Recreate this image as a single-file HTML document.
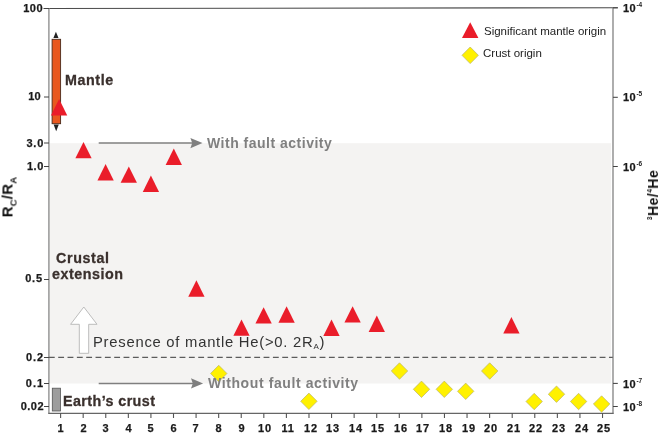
<!DOCTYPE html><html><head><meta charset="utf-8"><title>chart</title><style>
html,body{margin:0;padding:0;background:#fff;}
#c{position:relative;width:660px;height:434px;overflow:hidden;background:#fff;font-family:"Liberation Sans",sans-serif;color:#1a1a1a;}
.t{position:absolute;white-space:nowrap;line-height:1;will-change:transform;}
.yl{font-weight:bold;font-size:11px;text-align:right;width:40px;left:2.5px;letter-spacing:0.3px;-webkit-text-stroke:0.25px #1a1a1a}
.xl{font-weight:bold;font-size:11px;text-align:center;width:30px;top:422.7px;letter-spacing:0.8px;-webkit-text-stroke:0.25px #1a1a1a}
.rl{font-weight:bold;font-size:11px;left:622.6px;letter-spacing:0.5px;-webkit-text-stroke:0.25px #1a1a1a}
.rl sup{font-size:6.5px;position:relative;top:-0.7px;left:0.2px;vertical-align:top;letter-spacing:0;-webkit-text-stroke:0}
.big{font-weight:bold;font-size:14.3px;letter-spacing:0.9px;color:#3a302d;-webkit-text-stroke:0.3px #3a302d}
.gr{font-weight:bold;font-size:14px;letter-spacing:0.5px;color:#808080}
</style></head><body><div id="c">
<svg width="660" height="434" viewBox="0 0 660 434" style="position:absolute;left:0;top:0">
<rect x="49" y="143.2" width="562" height="240.3" fill="#f4f3f2"/>
<line x1="43.5" y1="8.45" x2="617.8" y2="7.75" stroke="#4a4a4a" stroke-width="1.05"/>
<line x1="48.9" y1="8" x2="48.9" y2="413.8" stroke="#888" stroke-width="1.3"/>
<line x1="613.0" y1="8" x2="613.0" y2="413.8" stroke="#777" stroke-width="1.2"/>
<line x1="48.3" y1="413.4" x2="613.6" y2="413.4" stroke="#666" stroke-width="1.2"/>
<line x1="44" y1="8.5" x2="49" y2="8.5" stroke="#444" stroke-width="1"/>
<line x1="44" y1="97" x2="49" y2="97" stroke="#444" stroke-width="1"/>
<line x1="44" y1="143" x2="49" y2="143" stroke="#444" stroke-width="1"/>
<line x1="44" y1="166.5" x2="49" y2="166.5" stroke="#444" stroke-width="1"/>
<line x1="44" y1="279.5" x2="49" y2="279.5" stroke="#444" stroke-width="1"/>
<line x1="44" y1="357.5" x2="49" y2="357.5" stroke="#444" stroke-width="1"/>
<line x1="44" y1="383.5" x2="49" y2="383.5" stroke="#444" stroke-width="1"/>
<line x1="44" y1="406.5" x2="49" y2="406.5" stroke="#444" stroke-width="1"/>
<line x1="613" y1="7.8" x2="617.8" y2="7.8" stroke="#444" stroke-width="1.05"/>
<line x1="613" y1="97.3" x2="617.8" y2="97.3" stroke="#444" stroke-width="1.05"/>
<line x1="613" y1="166.5" x2="617.8" y2="166.5" stroke="#444" stroke-width="1.05"/>
<line x1="613" y1="383.4" x2="617.8" y2="383.4" stroke="#444" stroke-width="1.05"/>
<line x1="613" y1="406.5" x2="617.8" y2="406.5" stroke="#444" stroke-width="1.05"/>
<line x1="60.60" y1="413" x2="60.60" y2="418" stroke="#555" stroke-width="1.1"/>
<line x1="83.18" y1="413" x2="83.18" y2="418" stroke="#555" stroke-width="1.1"/>
<line x1="105.76" y1="413" x2="105.76" y2="418" stroke="#555" stroke-width="1.1"/>
<line x1="128.34" y1="413" x2="128.34" y2="418" stroke="#555" stroke-width="1.1"/>
<line x1="150.92" y1="413" x2="150.92" y2="418" stroke="#555" stroke-width="1.1"/>
<line x1="173.50" y1="413" x2="173.50" y2="418" stroke="#555" stroke-width="1.1"/>
<line x1="196.08" y1="413" x2="196.08" y2="418" stroke="#555" stroke-width="1.1"/>
<line x1="218.66" y1="413" x2="218.66" y2="418" stroke="#555" stroke-width="1.1"/>
<line x1="241.24" y1="413" x2="241.24" y2="418" stroke="#555" stroke-width="1.1"/>
<line x1="263.82" y1="413" x2="263.82" y2="418" stroke="#555" stroke-width="1.1"/>
<line x1="286.40" y1="413" x2="286.40" y2="418" stroke="#555" stroke-width="1.1"/>
<line x1="308.98" y1="413" x2="308.98" y2="418" stroke="#555" stroke-width="1.1"/>
<line x1="331.56" y1="413" x2="331.56" y2="418" stroke="#555" stroke-width="1.1"/>
<line x1="354.14" y1="413" x2="354.14" y2="418" stroke="#555" stroke-width="1.1"/>
<line x1="376.72" y1="413" x2="376.72" y2="418" stroke="#555" stroke-width="1.1"/>
<line x1="399.30" y1="413" x2="399.30" y2="418" stroke="#555" stroke-width="1.1"/>
<line x1="421.88" y1="413" x2="421.88" y2="418" stroke="#555" stroke-width="1.1"/>
<line x1="444.46" y1="413" x2="444.46" y2="418" stroke="#555" stroke-width="1.1"/>
<line x1="467.04" y1="413" x2="467.04" y2="418" stroke="#555" stroke-width="1.1"/>
<line x1="489.62" y1="413" x2="489.62" y2="418" stroke="#555" stroke-width="1.1"/>
<line x1="512.20" y1="413" x2="512.20" y2="418" stroke="#555" stroke-width="1.1"/>
<line x1="534.78" y1="413" x2="534.78" y2="418" stroke="#555" stroke-width="1.1"/>
<line x1="557.36" y1="413" x2="557.36" y2="418" stroke="#555" stroke-width="1.1"/>
<line x1="579.94" y1="413" x2="579.94" y2="418" stroke="#555" stroke-width="1.1"/>
<line x1="602.52" y1="413" x2="602.52" y2="418" stroke="#555" stroke-width="1.1"/>
<line x1="48.87" y1="357.35" x2="612.8" y2="357.35" stroke="#5c5c5c" stroke-width="1.05" stroke-dasharray="5.85 3.485"/>
<rect x="52.1" y="39.3" width="8.5" height="84.4" fill="#e9581f" stroke="#4a2a1a" stroke-width="0.9"/>
<path d="M55.9 31.8 L58.5 37.9 L53.4 37.9 Z" fill="#222"/>
<path d="M56.2 131.2 L58.8 124.4 L53.6 124.4 Z" fill="#222"/>
<rect x="52.3" y="388.2" width="8.2" height="22.8" fill="#9d9d9d" stroke="#555" stroke-width="0.8"/>
<line x1="98.7" y1="143.1" x2="194.5" y2="143.1" stroke="#7f7f7f" stroke-width="1.5"/>
<path d="M202.5 143.1 L190.40 138.00 L192.20 143.1 L190.40 148.20 Z" fill="#7f7f7f"/>
<line x1="98.7" y1="383.4" x2="195.1" y2="383.4" stroke="#7f7f7f" stroke-width="1.5"/>
<path d="M203.1 383.4 L191.00 378.30 L192.80 383.4 L191.00 388.50 Z" fill="#7f7f7f"/>
<path d="M83.8 307 L97 324.3 L88.7 324.3 L88.7 353.3 L79.3 353.3 L79.3 324.3 L70.6 324.3 Z" fill="#fff" stroke="#b5b5b5" stroke-width="0.9" stroke-linejoin="miter"/>
<path d="M59.1 99.10 L67.25 115.5 L50.95 115.5 Z" fill="#ea1d2a"/>
<path d="M83.5 141.90 L91.65 158.3 L75.35 158.3 Z" fill="#ea1d2a"/>
<path d="M105.6 164.10 L113.75 180.5 L97.45 180.5 Z" fill="#ea1d2a"/>
<path d="M128.8 166.40 L136.95 182.8 L120.65 182.8 Z" fill="#ea1d2a"/>
<path d="M150.9 175.50 L159.05 191.9 L142.75 191.9 Z" fill="#ea1d2a"/>
<path d="M173.8 148.60 L181.95 165.0 L165.65 165.0 Z" fill="#ea1d2a"/>
<path d="M196.4 280.30 L204.55 296.7 L188.25 296.7 Z" fill="#ea1d2a"/>
<path d="M241.5 319.40 L249.65 335.8 L233.35 335.8 Z" fill="#ea1d2a"/>
<path d="M263.6 307.20 L271.75 323.6 L255.45 323.6 Z" fill="#ea1d2a"/>
<path d="M286.6 306.30 L294.75 322.7 L278.45 322.7 Z" fill="#ea1d2a"/>
<path d="M331.5 319.50 L339.65 335.9 L323.35 335.9 Z" fill="#ea1d2a"/>
<path d="M352.6 306.20 L360.75 322.6 L344.45 322.6 Z" fill="#ea1d2a"/>
<path d="M376.8 315.50 L384.95 331.9 L368.65 331.9 Z" fill="#ea1d2a"/>
<path d="M511.4 317.10 L519.55 333.5 L503.25 333.5 Z" fill="#ea1d2a"/>
<path d="M218.75 365.3 L226.95 373.5 L218.75 381.7 L210.55 373.5 Z" fill="#fff100" stroke="#b9b36a" stroke-width="0.7"/>
<path d="M308.9 393.1 L317.09999999999997 401.3 L308.9 409.5 L300.7 401.3 Z" fill="#fff100" stroke="#b9b36a" stroke-width="0.7"/>
<path d="M399.5 362.8 L407.7 371 L399.5 379.2 L391.3 371 Z" fill="#fff100" stroke="#b9b36a" stroke-width="0.7"/>
<path d="M421.5 381.1 L429.7 389.3 L421.5 397.5 L413.3 389.3 Z" fill="#fff100" stroke="#b9b36a" stroke-width="0.7"/>
<path d="M444.3 381.1 L452.5 389.3 L444.3 397.5 L436.1 389.3 Z" fill="#fff100" stroke="#b9b36a" stroke-width="0.7"/>
<path d="M465.7 383.1 L473.9 391.3 L465.7 399.5 L457.5 391.3 Z" fill="#fff100" stroke="#b9b36a" stroke-width="0.7"/>
<path d="M489.7 362.8 L497.9 371 L489.7 379.2 L481.5 371 Z" fill="#fff100" stroke="#b9b36a" stroke-width="0.7"/>
<path d="M534.2 393.3 L542.4000000000001 401.5 L534.2 409.7 L526.0 401.5 Z" fill="#fff100" stroke="#b9b36a" stroke-width="0.7"/>
<path d="M556.5 386.0 L564.7 394.2 L556.5 402.4 L548.3 394.2 Z" fill="#fff100" stroke="#b9b36a" stroke-width="0.7"/>
<path d="M578.6 393.3 L586.8000000000001 401.5 L578.6 409.7 L570.4 401.5 Z" fill="#fff100" stroke="#b9b36a" stroke-width="0.7"/>
<path d="M601.6 395.8 L609.8000000000001 404 L601.6 412.2 L593.4 404 Z" fill="#fff100" stroke="#b9b36a" stroke-width="0.7"/>
<path d="M470.2 22.2 L478.4 38.0 L462.0 38.0 Z" fill="#ea1d2a"/>
<path d="M470.2 47.0 L478.4 55.3 L470.2 63.6 L462.0 55.3 Z" fill="#fff100" stroke="#b9b36a" stroke-width="0.7"/>
</svg>
<div class="t yl" style="top:2.9px;left:3.45px;letter-spacing:0.45px">100</div>
<div class="t yl" style="top:91.2px;left:0.50px;letter-spacing:0.3px">10</div>
<div class="t yl" style="top:137.9px;left:3.85px;letter-spacing:0.75px">3.0</div>
<div class="t yl" style="top:161.3px;left:3.80px;letter-spacing:0.6px">1.0</div>
<div class="t yl" style="top:273.2px;left:3.25px;letter-spacing:0.85px">0.5</div>
<div class="t yl" style="top:351.8px;left:3.90px;letter-spacing:0.9px">0.2</div>
<div class="t yl" style="top:377.8px;left:3.95px;letter-spacing:0.95px">0.1</div>
<div class="t yl" style="top:400.9px;left:4.45px;letter-spacing:0.45px">0.02</div>
<div class="t xl" style="left:46.00px">1</div>
<div class="t xl" style="left:68.58px">2</div>
<div class="t xl" style="left:91.16px">3</div>
<div class="t xl" style="left:113.74px">4</div>
<div class="t xl" style="left:136.32px">5</div>
<div class="t xl" style="left:158.90px">6</div>
<div class="t xl" style="left:181.48px">7</div>
<div class="t xl" style="left:204.06px">8</div>
<div class="t xl" style="left:226.64px">9</div>
<div class="t xl" style="left:250.42px">10</div>
<div class="t xl" style="left:273.00px">11</div>
<div class="t xl" style="left:295.58px">12</div>
<div class="t xl" style="left:318.16px">13</div>
<div class="t xl" style="left:340.74px">14</div>
<div class="t xl" style="left:363.32px">15</div>
<div class="t xl" style="left:385.90px">16</div>
<div class="t xl" style="left:408.48px">17</div>
<div class="t xl" style="left:431.06px">18</div>
<div class="t xl" style="left:453.64px">19</div>
<div class="t xl" style="left:476.22px">20</div>
<div class="t xl" style="left:498.80px">21</div>
<div class="t xl" style="left:521.38px">22</div>
<div class="t xl" style="left:543.96px">23</div>
<div class="t xl" style="left:566.54px">24</div>
<div class="t xl" style="left:589.12px">25</div>
<div class="t rl" style="top:3.1px">10<sup>-4</sup></div>
<div class="t rl" style="top:92.4px">10<sup>-5</sup></div>
<div class="t rl" style="top:161.6px">10<sup>-6</sup></div>
<div class="t rl" style="top:378.5px">10<sup>-7</sup></div>
<div class="t rl" style="top:401.6px">10<sup>-8</sup></div>
<div class="t big" style="left:65.3px;top:72.5px;letter-spacing:0.58px">Mantle</div>
<div class="t big" style="left:55.6px;top:251px;letter-spacing:0.62px">Crustal</div>
<div class="t big" style="left:51.5px;top:266.5px;letter-spacing:0.53px">extension</div>
<div class="t big" style="left:63.1px;top:394px;letter-spacing:0.42px">Earth’s crust</div>
<div class="t gr" style="left:207.2px;top:135.8px">With fault activity</div>
<div class="t gr" style="left:208.3px;top:376.2px;letter-spacing:0.6px">Without fault activity</div>
<div class="t " style="left:93px;top:334.6px;font-size:14.8px;color:#333;letter-spacing:0.75px">Presence of mantle He(&gt;0. 2R<span style="font-size:8px;position:relative;top:2px">A</span>)</div>
<div class="t " style="left:483.6px;top:25.6px;font-size:11.5px;color:#222;letter-spacing:0.0px">Significant mantle origin</div>
<div class="t " style="left:482.5px;top:48px;font-size:11.5px;color:#222;letter-spacing:0px">Crust origin</div>
<div class="t" style="left:7.0px;top:196.8px;width:0;height:0;"><div style="position:absolute;white-space:nowrap;transform:translate(-50%,-50%) rotate(-90deg);font-weight:bold;font-size:15px;letter-spacing:0.2px;color:#111">R<span style="font-size:9.5px;position:relative;top:4.2px">C</span>/R<span style="font-size:9.5px;position:relative;top:4.2px">A</span></div></div>
<div class="t" style="left:652.6px;top:195.0px;width:0;height:0;"><div style="position:absolute;white-space:nowrap;transform:translate(-50%,-50%) rotate(-90deg);font-weight:bold;font-size:14px;letter-spacing:0.5px;color:#111"><span style="font-size:6.5px;position:relative;top:-6.5px">3</span>He/<span style="font-size:6.5px;position:relative;top:-6.5px">4</span>He</div></div>
</div></body></html>
